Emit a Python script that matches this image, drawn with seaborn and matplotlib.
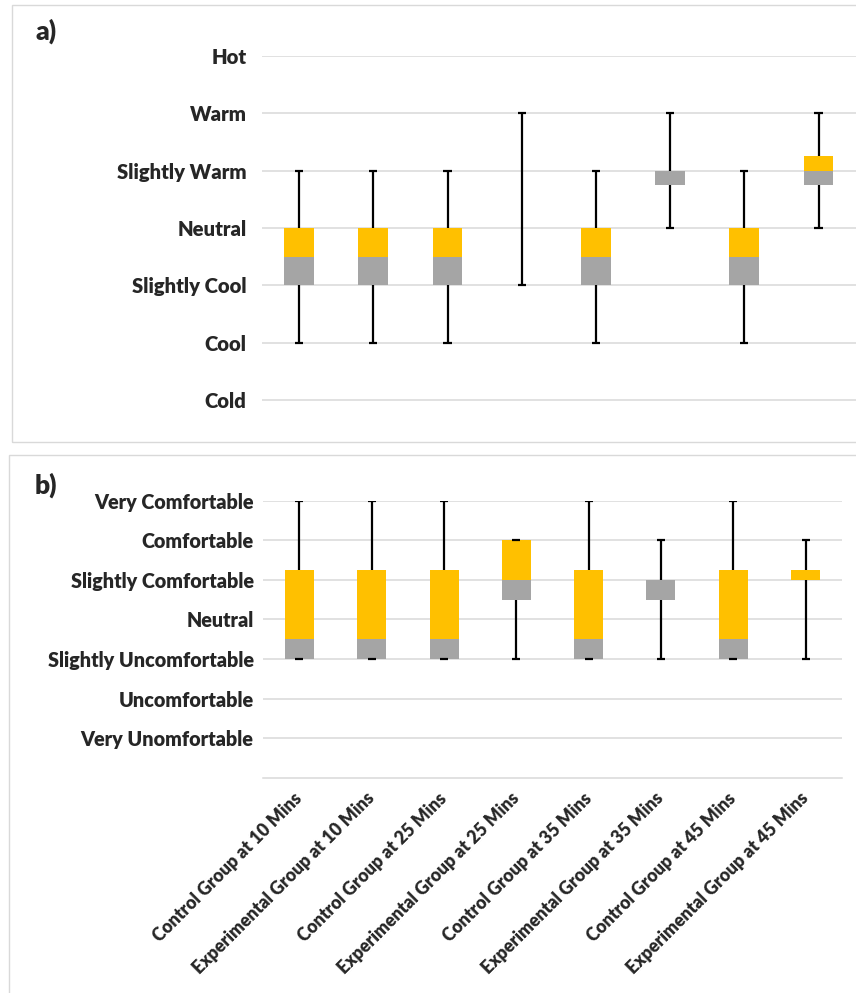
import numpy as np
import pandas as pd
import matplotlib
matplotlib.use("Agg")
import matplotlib.pyplot as plt
import seaborn as sns
from matplotlib.patches import Rectangle

# Category order shared by both panels
groups = [
    "Control Group at 10 Mins", "Experimental Group at 10 Mins",
    "Control Group at 25 Mins", "Experimental Group at 25 Mins",
    "Control Group at 35 Mins", "Experimental Group at 35 Mins",
    "Control Group at 45 Mins", "Experimental Group at 45 Mins",
]

# a) thermal sensation vote (-3 = Cold ... +3 = Hot)
sensation_labels = ["Cold", "Cool", "Slightly Cool", "Neutral",
                    "Slightly Warm", "Warm", "Hot"]
sensation_min = [-2, -2, -2, -1, -2, 0, -2, 0]
sensation_q1 = [-1, -1, -1, 0, -1, 0.75, -1, 0.75]
sensation_median = [-0.5, -0.5, -0.5, 0, -0.5, 1, -0.5, 1]
sensation_q3 = [0, 0, 0, 0, 0, 1, 0, 1.25]
sensation_max = [1, 1, 1, 2, 1, 2, 1, 2]

# b) thermal comfort vote (-3 = Very Uncomfortable ... +3 = Very Comfortable)
comfort_labels = ["Very Unomfortable", "Uncomfortable", "Slightly Uncomfortable",
                  "Neutral", "Slightly Comfortable", "Comfortable",
                  "Very Comfortable"]
comfort_min = [-1, -1, -1, -1, -1, -1, -1, -1]
comfort_q1 = [-1, -1, -1, 0.5, -1, 0.5, -1, 1]
comfort_median = [-0.5, -0.5, -0.5, 1, -0.5, 1, -0.5, 1]
comfort_q3 = [1.25, 1.25, 1.25, 2, 1.25, 1, 1.25, 1.25]
comfort_max = [3, 3, 3, 2, 3, 2, 3, 2]

LOWER_COLOR = "#A5A5A5"
UPPER_COLOR = "#FFC000"
GRID_COLOR = "#D9D9D9"
FONT = ["Lato", "DejaVu Sans"]
WEIGHT = "heavy"

sns.set_style("white")
plt.rcParams["font.family"] = FONT
plt.rcParams["font.weight"] = WEIGHT

W, H = 856, 993
fig = plt.figure(figsize=(W / 100, H / 100), dpi=100)


def px_axes(left, top, right, bottom):
    return fig.add_axes([left / W, 1 - bottom / H, (right - left) / W, (bottom - top) / H])


def draw_box_panel(ax, vmin, q1, med, q3, vmax):
    df = pd.DataFrame({
        "group": pd.Categorical(groups, categories=groups, ordered=True),
        "q1": q1, "med": med, "q3": q3, "min": vmin, "max": vmax,
    })
    lower = df["med"] - df["q1"]
    upper = df["q3"] - df["med"]
    sns.barplot(x=df["group"], y=lower, bottom=df["q1"].to_numpy(), color=LOWER_COLOR,
                saturation=1, width=0.4, errorbar=None, linewidth=0, ax=ax, zorder=2)
    sns.barplot(x=df["group"], y=upper, bottom=df["med"].to_numpy(), color=UPPER_COLOR,
                saturation=1, width=0.4, errorbar=None, linewidth=0, ax=ax, zorder=2)
    xs = np.arange(len(groups))
    cap = 0.055
    # whiskers run from the box edges out to the extremes
    ax.vlines(xs, df["min"], df["q1"], color="black", lw=1.6, zorder=3)
    ax.vlines(xs, df["q3"], df["max"], color="black", lw=1.6, zorder=3)
    ax.hlines(df["min"], xs - cap, xs + cap, color="black", lw=1.6, zorder=3)
    ax.hlines(df["max"], xs - cap, xs + cap, color="black", lw=1.6, zorder=3)
    ax.set_xlim(-0.5, len(groups) - 0.5)
    ax.set_xlabel("")
    ax.set_ylabel("")
    ax.yaxis.grid(True, color=GRID_COLOR, lw=1.1, zorder=0)
    ax.set_axisbelow(True)
    for s in ax.spines.values():
        s.set_visible(False)
    ax.tick_params(axis="y", length=0)


# panel frames
fig.add_artist(Rectangle((12 / W, 1 - 442 / H), 860 / W, 437 / H, transform=fig.transFigure,
                         fill=False, edgecolor=GRID_COLOR, lw=1.0))
fig.add_artist(Rectangle((9 / W, -0.05), 860 / W, 1 - 455 / H + 0.05, transform=fig.transFigure,
                         fill=False, edgecolor=GRID_COLOR, lw=1.0))

# a)
ax1 = px_axes(262, 56, 855.6, 442)
draw_box_panel(ax1, sensation_min, sensation_q1, sensation_median, sensation_q3, sensation_max)
ax1.set_ylim(-3.73, 3)
ax1.set_yticks(range(-3, 4))
ax1.set_yticklabels(sensation_labels, fontsize=14.6, fontweight=WEIGHT)
ax1.tick_params(axis="y", pad=11)
ax1.set_xticks([])
fig.text(36 / W, 1 - 40 / H, "a)", fontsize=19, fontweight=WEIGHT, ha="left", va="baseline")

# b)
ax2 = px_axes(263.3, 500.7, 841.7, 777.7)
draw_box_panel(ax2, comfort_min, comfort_q1, comfort_median, comfort_q3, comfort_max)
ax2.set_ylim(-4, 3)
ax2.set_yticks(range(-3, 4))
ax2.set_yticklabels(comfort_labels, fontsize=14.2, fontweight=WEIGHT)
ax2.tick_params(axis="y", pad=7)
ax2.spines["bottom"].set_visible(True)
ax2.spines["bottom"].set_color(GRID_COLOR)
ax2.spines["bottom"].set_linewidth(1.1)
ax2.set_xticks(np.arange(len(groups)))
ax2.set_xticks(np.arange(-0.5, len(groups)), minor=True)
ax2.tick_params(axis="x", which="major", length=0, pad=13)
ax2.tick_params(axis="x", which="minor", length=4, width=1.1, color=GRID_COLOR, direction="out")
ax2.set_xticklabels(groups, rotation=45, ha="right", rotation_mode="anchor",
                    fontsize=12.7, fontweight=WEIGHT, va="center")
fig.text(35 / W, 1 - 494 / H, "b)", fontsize=19, fontweight=WEIGHT, ha="left", va="baseline")

fig.savefig("out.png", dpi=100)
